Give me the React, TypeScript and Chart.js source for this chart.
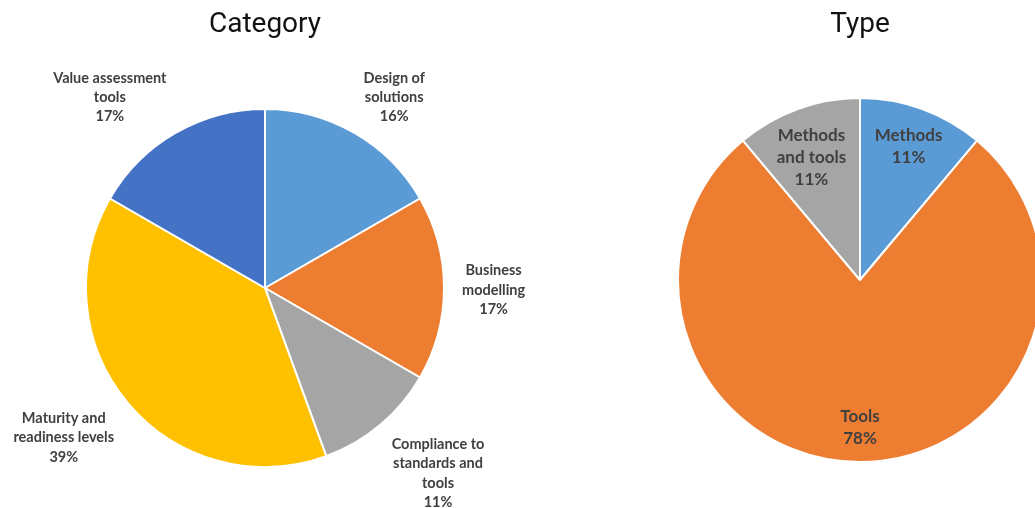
import React, { useEffect, useRef } from 'react';
import { Chart, registerables } from 'chart.js';

Chart.register(...registerables);

// ---------- data ----------
const categoryTitle = 'Category';
const categoryNames = [
  'Design of solutions',
  'Business modelling',
  'Compliance to standards and tools',
  'Maturity and readiness levels',
  'Value assessment tools',
];
const categoryLabelLines = [
  ['Design of', 'solutions'],
  ['Business', 'modelling'],
  ['Compliance to', 'standards and', 'tools'],
  ['Maturity and', 'readiness levels'],
  ['Value assessment', 'tools'],
];
const categoryCounts = [3, 3, 2, 7, 3];
const categoryPercents = [16, 17, 11, 39, 17];
const categoryColors = ['#5B9BD5', '#ED7D31', '#A5A5A5', '#FFC000', '#4472C4'];

const typeTitle = 'Type';
const typeNames = ['Methods', 'Tools', 'Methods and tools'];
const typeLabelLines = [['Methods'], ['Tools'], ['Methods', 'and tools']];
const typeCounts = [1, 7, 1];
const typePercents = [11, 78, 11];
const typeColors = ['#5B9BD5', '#ED7D31', '#A5A5A5'];

// ---------- plugins ----------
const titlePlugin = {
  id: 'plainTitle',
  afterDraw(chart: any, _a: any, opts: any) {
    const ctx = chart.ctx;
    ctx.save();
    ctx.font = opts.font;
    ctx.fillStyle = opts.color;
    ctx.textAlign = 'center';
    ctx.textBaseline = 'middle';
    ctx.fillText(opts.text, chart.width / 2, opts.y);
    ctx.restore();
  },
};

const sliceLabelPlugin = {
  id: 'sliceLabels',
  afterDatasetsDraw(chart: any, _a: any, opts: any) {
    const ctx = chart.ctx;
    const meta = chart.getDatasetMeta(0);
    ctx.save();
    ctx.font = opts.font;
    ctx.fillStyle = opts.color;
    ctx.textAlign = 'center';
    ctx.textBaseline = 'middle';
    meta.data.forEach((arc: any, i: number) => {
      const p = arc.getProps(['x', 'y', 'startAngle', 'endAngle', 'outerRadius'], true);
      const mid = (p.startAngle + p.endAngle) / 2;
      const dx = Math.cos(mid);
      const dy = Math.sin(mid);
      const lines: string[] = [...opts.lines[i], opts.percents[i] + '%'];
      const w = Math.max(...lines.map((t) => ctx.measureText(t).width));
      const h = lines.length * opts.lineHeight;
      let cx: number;
      let cy: number;
      if (opts.mode === 'outside') {
        const ax = p.x + dx * (p.outerRadius + opts.gapX);
        const ay = p.y + dy * (p.outerRadius + opts.gapY);
        const sx = Math.abs(dx) < 0.1 ? 0 : Math.sign(dx);
        const sy = Math.max(-1, Math.min(1, dy * 1.4));
        cx = ax + (sx * w) / 2;
        cy = ay + (sy * h) / 2;
      } else {
        cx = p.x + dx * p.outerRadius * opts.ratioX;
        cy = p.y + dy * p.outerRadius * opts.ratioY - (Math.sign(dy) * h) / 2;
      }
      lines.forEach((t, j) => {
        ctx.fillText(t, cx, cy - h / 2 + opts.lineHeight * (j + 0.5) + opts.baselineShift);
      });
    });
    ctx.restore();
  },
};

function makePie(
  canvas: HTMLCanvasElement,
  names: string[],
  values: number[],
  colors: string[],
  radius: number,
  padTop: number,
  title: string,
  labelOpts: any
) {
  return new Chart(canvas, {
    type: 'pie',
    data: {
      labels: names,
      datasets: [
        {
          data: values,
          backgroundColor: colors,
          borderColor: '#ffffff',
          borderWidth: 2,
          hoverOffset: 0,
        },
      ],
    },
    options: {
      responsive: false,
      animation: false,
      devicePixelRatio: 1,
      radius: radius,
      layout: { padding: { top: padTop, bottom: 0, left: 0, right: 0 } },
      plugins: {
        legend: { display: false },
        tooltip: { enabled: false },
        title: { display: false },
        plainTitle: { text: title, font: '28px Roboto', color: '#111111', y: 25 },
        sliceLabels: labelOpts,
      },
    } as any,
    plugins: [titlePlugin, sliceLabelPlugin],
  });
}

export default function App() {
  const leftRef = useRef<HTMLCanvasElement>(null);
  const rightRef = useRef<HTMLCanvasElement>(null);

  useEffect(() => {
    const left = makePie(
      leftRef.current!,
      categoryNames,
      categoryCounts,
      categoryColors,
      179,
      68,
      categoryTitle,
      {
        mode: 'outside',
        lines: categoryLabelLines,
        percents: categoryPercents,
        font: 'bold 14.5px Lato',
        lineHeight: 19.3,
        color: '#404040',
        gapX: 18,
        gapY: 10,
        baselineShift: 2,
      }
    );
    const right = makePie(
      rightRef.current!,
      typeNames,
      typeCounts,
      typeColors,
      182,
      52,
      typeTitle,
      {
        mode: 'inside',
        lines: typeLabelLines,
        percents: typePercents,
        font: 'bold 17px Lato',
        lineHeight: 22,
        color: '#404040',
        ratioX: 0.78,
        ratioY: 0.92,
        baselineShift: 2,
      }
    );
    return () => {
      left.destroy();
      right.destroy();
    };
  }, []);

  return (
    <div
      style={{
        position: 'fixed',
        left: 0,
        top: 0,
        width: 1035,
        height: 508,
        overflow: 'hidden',
        background: '#ffffff',
      }}
    >
      <canvas
        ref={leftRef}
        width={530}
        height={508}
        style={{ position: 'absolute', left: 0, top: 0, width: 530, height: 508 }}
      />
      <canvas
        ref={rightRef}
        width={400}
        height={508}
        style={{ position: 'absolute', left: 660, top: 0, width: 400, height: 508 }}
      />
    </div>
  );
}
